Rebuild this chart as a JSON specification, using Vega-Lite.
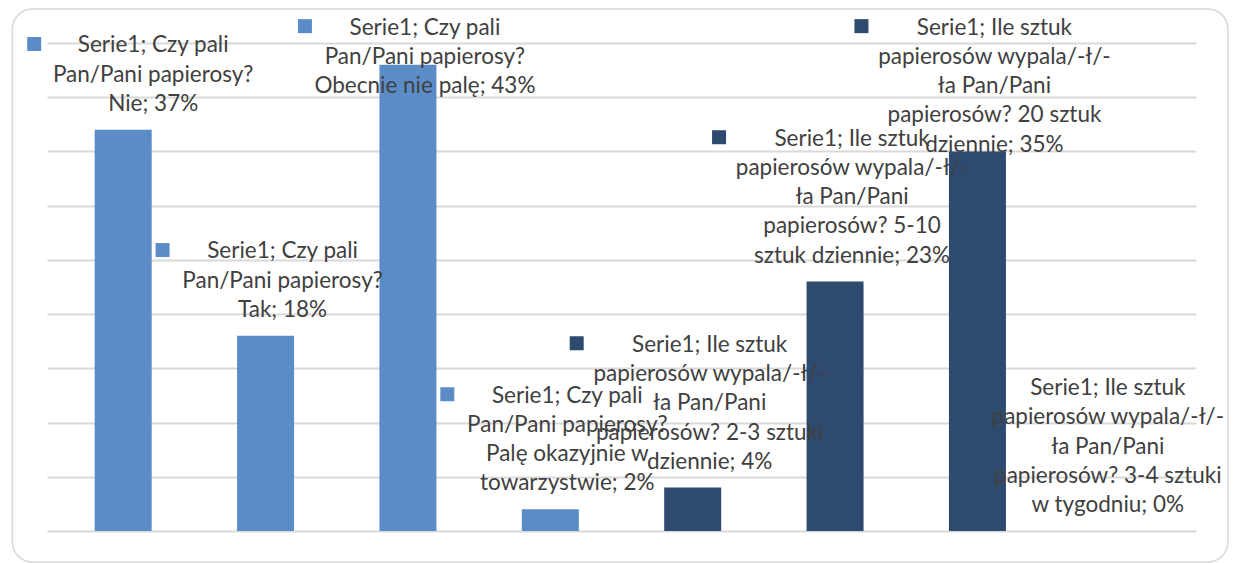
{
  "$schema": "https://vega.github.io/schema/vega-lite/v6.json",
  "width": 1149,
  "height": 488,
  "autosize": {"type": "none"},
  "padding": {"left": 47, "top": 43, "right": 38, "bottom": 32},
  "background": "white",
  "config": {"view": {"stroke": null}},
  "datasets": {
    "bars": [
      {"idx": 1, "grp": "czy", "value": 37, "label": ["Serie1; Czy pali", "Pan/Pani papierosy?", "Nie; 37%"]},
      {"idx": 2, "grp": "czy", "value": 18, "label": ["Serie1; Czy pali", "Pan/Pani papierosy?", "Tak; 18%"]},
      {"idx": 3, "grp": "czy", "value": 43, "label": ["Serie1; Czy pali", "Pan/Pani papierosy?", "Obecnie nie palę; 43%"]},
      {"idx": 4, "grp": "czy", "value": 2, "label": ["Serie1; Czy pali", "Pan/Pani papierosy?", "Palę okazyjnie w", "towarzystwie; 2%"]},
      {"idx": 5, "grp": "ile", "value": 4, "label": ["Serie1; Ile sztuk", "papierosów wypala/-ł/-", "ła Pan/Pani", "papierosów? 2-3 sztuki", "dziennie; 4%"]},
      {"idx": 6, "grp": "ile", "value": 23, "label": ["Serie1; Ile sztuk", "papierosów wypala/-ł/-", "ła Pan/Pani", "papierosów? 5-10", "sztuk dziennie; 23%"]},
      {"idx": 7, "grp": "ile", "value": 35, "label": ["Serie1; Ile sztuk", "papierosów wypala/-ł/-", "ła Pan/Pani", "papierosów? 20 sztuk", "dziennie; 35%"]},
      {"idx": 8, "grp": "ile", "value": 0, "label": ["Serie1; Ile sztuk", "papierosów wypala/-ł/-", "ła Pan/Pani", "papierosów? 3-4 sztuki", "w tygodniu; 0%"]}
    ]
  },
  "layer": [
    {
      "data": {"values": [{}]},
      "mark": {"type": "rect", "filled": false, "stroke": "#d9d9d9", "strokeWidth": 1.5, "cornerRadius": 20},
      "encoding": {
        "x": {"datum": 0.2214, "type": "quantitative", "scale": {"domain": [0.5, 8.5], "nice": false, "zero": false}, "axis": null},
        "x2": {"datum": 8.759},
        "y": {"datum": 48.135, "type": "quantitative", "scale": {"domain": [0, 45], "nice": false, "zero": false},
          "axis": {"values": [0, 5, 10, 15, 20, 25, 30, 35, 40, 45], "grid": true, "gridColor": "#d9d9d9", "gridWidth": 2, "labels": false, "ticks": false, "domain": false, "title": null}},
        "y2": {"datum": -2.859}
      }
    },
    {
      "data": {"name": "bars"},
      "mark": {"type": "bar", "orient": "vertical", "width": 57},
      "encoding": {
        "x": {"field": "idx", "type": "quantitative"},
        "y": {"field": "value", "type": "quantitative"},
        "y2": {"datum": 0},
        "color": {"field": "grp", "type": "nominal", "scale": {"domain": ["czy", "ile"], "range": ["#5B8CC7", "#2E4A6F"]}, "legend": null}
      }
    },
    {
      "data": {"name": "bars"},
      "transform": [
        {"calculate": "min(datum.value + (10.5 + length(datum.label) * 29.3) / 10.844, 47.72)", "as": "labelTop"}
      ],
      "mark": {"type": "point", "shape": "square", "filled": true, "size": 196, "opacity": 1,
        "xOffset": {"expr": "datum.idx == 1 ? -89 : datum.idx == 8 ? -143 : datum.idx <= 4 ? -103 : -116"},
        "yOffset": 12.65},
      "encoding": {
        "x": {"field": "idx", "type": "quantitative"},
        "y": {"field": "labelTop", "type": "quantitative"},
        "color": {"field": "grp", "type": "nominal", "legend": null}
      }
    },
    {
      "data": {"name": "bars"},
      "transform": [
        {"calculate": "min(datum.value + (10.5 + length(datum.label) * 29.3) / 10.844, 47.72)", "as": "labelTop"}
      ],
      "mark": {"type": "text", "align": "center", "baseline": "line-top", "lineHeight": 29.3,
        "font": "Lato", "fontSize": 22.5, "fill": "#404040",
        "dx": {"expr": "datum.idx == 1 ? 30 : datum.idx == 8 ? -12 : 17"}},
      "encoding": {
        "x": {"field": "idx", "type": "quantitative"},
        "y": {"field": "labelTop", "type": "quantitative"},
        "text": {"field": "label"}
      }
    }
  ]
}
